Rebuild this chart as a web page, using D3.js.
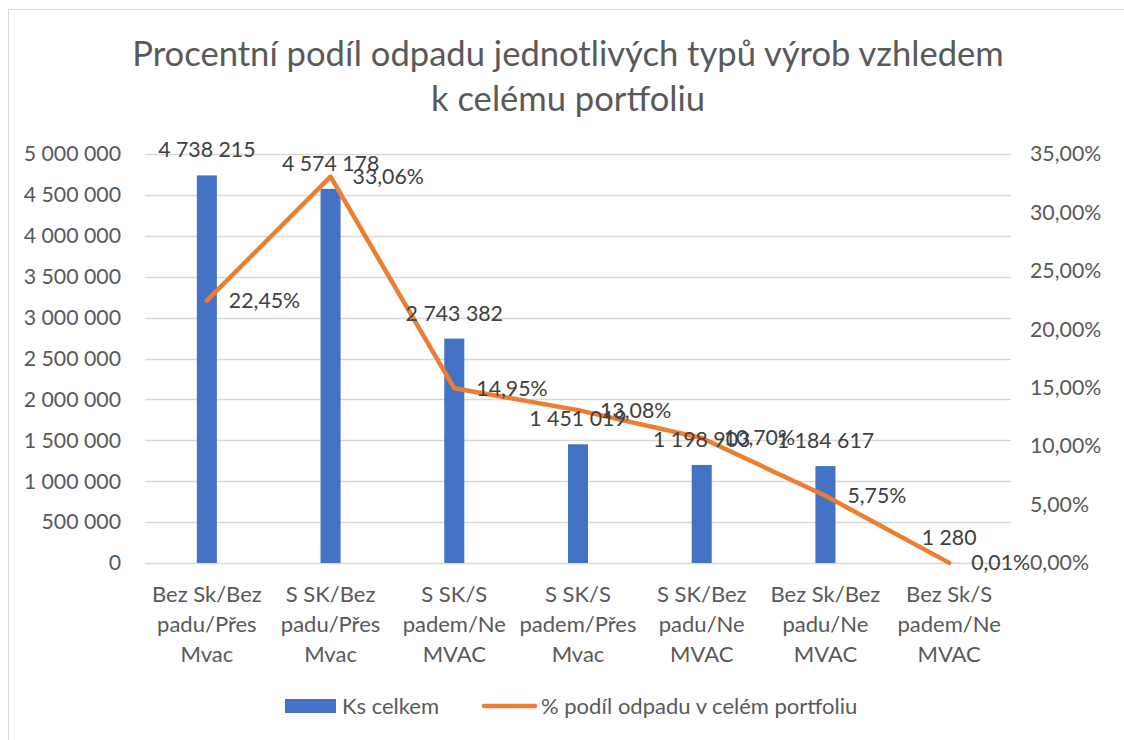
<!DOCTYPE html>
<html><head><meta charset="utf-8">
<script src="https://cdn.jsdelivr.net/npm/d3@7"></script>
<style>html,body{margin:0;padding:0;background:#fff;}svg{display:block;}</style>
</head><body>
<svg id="chart" width="1124" height="740"></svg>
<script>
const titleLines = ["Procentní podíl odpadu jednotlivých typů výrob vzhledem", "k celému portfoliu"];
const categories = [
  "Bez Sk/Bez padu/Přes Mvac",
  "S SK/Bez padu/Přes Mvac",
  "S SK/S padem/Ne MVAC",
  "S SK/S padem/Přes Mvac",
  "S SK/Bez padu/Ne MVAC",
  "Bez Sk/Bez padu/Ne MVAC",
  "Bez Sk/S padem/Ne MVAC"
];
const ksCelkem = [4738215, 4574178, 2743382, 1451019, 1198903, 1184617, 1280];
const podilPct = [22.45, 33.06, 14.95, 13.08, 10.70, 5.75, 0.01];
const leftTicks = [0, 500000, 1000000, 1500000, 2000000, 2500000, 3000000, 3500000, 4000000, 4500000, 5000000];
const rightTicks = [0, 5, 10, 15, 20, 25, 30, 35];
const seriesNames = ["Ks celkem", "% podíl odpadu v celém portfoliu"];

const FONT = "Lato, 'Open Sans', sans-serif";
const NUM = 21.3, TXT = 22;
const loc = d3.formatLocale({decimal: ",", thousands: " ", grouping: [3], currency: ["", ""]});
const fmtNum = loc.format(",");
const fmtPct = v => loc.format(".2%")(v / 100);

const svg = d3.select("#chart");
const m = {left: 145, right: 1011, top: 154, bottom: 563};

// chart border
svg.append("rect").attr("x", 8.5).attr("y", 9.5).attr("width", 1130).attr("height", 740)
  .attr("fill", "#fff").attr("stroke", "#D9D9D9").attr("stroke-width", 1);

// title
svg.append("g").selectAll("text").data(titleLines).join("text")
  .attr("x", 568).attr("y", (d, i) => 66 + i * 45)
  .attr("text-anchor", "middle").attr("font-family", FONT).attr("font-size", 34.6)
  .attr("fill", "#595959").text(d => d);

const x = d3.scaleBand().domain(categories).range([m.left, m.right]).paddingInner(0.838).paddingOuter(0.419);
const yL = d3.scaleLinear().domain([0, 5000000]).range([m.bottom, m.top]);
const yR = d3.scaleLinear().domain([0, 35]).range([m.bottom, m.top]);

// gridlines
svg.append("g").selectAll("line").data(leftTicks).join("line")
  .attr("x1", m.left).attr("x2", m.right)
  .attr("y1", d => Math.round(yL(d)) + 0.5).attr("y2", d => Math.round(yL(d)) + 0.5)
  .attr("stroke", "#D9D9D9").attr("stroke-width", 1.3);

// left axis
const axL = svg.append("g").attr("transform", `translate(${m.left},0)`)
  .call(d3.axisLeft(yL).tickValues(leftTicks).tickFormat(fmtNum).tickSize(0).tickPadding(24));
axL.select(".domain").remove();
axL.selectAll("text").attr("font-family", FONT).attr("font-size", NUM).attr("fill", "#595959");

// right axis
const axR = svg.append("g").attr("transform", `translate(${m.right},0)`)
  .call(d3.axisRight(yR).tickValues(rightTicks).tickFormat(fmtPct).tickSize(0).tickPadding(19));
axR.select(".domain").remove();
axR.selectAll("text").attr("font-family", FONT).attr("font-size", NUM).attr("fill", "#595959");

// category axis with wrapping
const axB = svg.append("g").attr("transform", `translate(0,${m.bottom})`)
  .call(d3.axisBottom(x).tickSize(0).tickPadding(0));
axB.select(".domain").remove();
axB.selectAll("text").each(function(d) {
  const t = d3.select(this);
  t.text(null).attr("font-family", FONT).attr("font-size", TXT).attr("fill", "#595959").attr("y", 0).attr("dy", null);
  const words = d.split(" ");
  const maxW = x.step() - 6;
  let lines = [], cur = "";
  const probe = t.append("tspan");
  words.forEach(w => {
    const test = cur ? cur + " " + w : w;
    probe.text(test);
    if (cur && probe.node().getComputedTextLength() > maxW) { lines.push(cur); cur = w; }
    else cur = test;
  });
  lines.push(cur);
  probe.remove();
  lines.forEach((ln, i) => t.append("tspan").attr("x", 0).attr("y", 39 + i * 30).text(ln));
});

// bars
svg.append("g").selectAll("rect").data(ksCelkem).join("rect")
  .attr("x", (d, i) => x(categories[i])).attr("width", x.bandwidth())
  .attr("y", d => yL(d)).attr("height", d => yL(0) - yL(d))
  .attr("fill", "#4472C4");

// line
svg.append("path").datum(podilPct)
  .attr("d", d3.line().x((d, i) => x(categories[i]) + x.bandwidth() / 2).y(d => yR(d)))
  .attr("fill", "none").attr("stroke", "#ED7D31").attr("stroke-width", 4.5)
  .attr("stroke-linejoin", "round").attr("stroke-linecap", "round");

// bar labels
svg.append("g").selectAll("text").data(ksCelkem).join("text")
  .attr("x", (d, i) => x(categories[i]) + x.bandwidth() / 2).attr("y", d => yL(d) - 18)
  .attr("text-anchor", "middle").attr("font-family", FONT).attr("font-size", NUM)
  .attr("fill", "#404040").text(d => fmtNum(d));

// line labels
svg.append("g").selectAll("text").data(podilPct).join("text")
  .attr("x", (d, i) => x(categories[i]) + x.bandwidth() / 2 + 22).attr("y", d => yR(d) + 7.5)
  .attr("font-family", FONT).attr("font-size", NUM)
  .attr("fill", "#404040").text(d => fmtPct(d));

// legend
const lg = svg.append("g");
lg.append("rect").attr("x", 285).attr("y", 699).attr("width", 51).attr("height", 14).attr("fill", "#4472C4");
lg.append("text").attr("x", 342).attr("y", 714).attr("font-family", FONT).attr("font-size", TXT)
  .attr("fill", "#595959").text(seriesNames[0]);
lg.append("line").attr("x1", 484).attr("x2", 535).attr("y1", 706).attr("y2", 706)
  .attr("stroke", "#ED7D31").attr("stroke-width", 4.5).attr("stroke-linecap", "round");
lg.append("text").attr("x", 541).attr("y", 714).attr("font-family", FONT).attr("font-size", TXT)
  .attr("fill", "#595959").text(seriesNames[1]);
</script>
</body></html>
